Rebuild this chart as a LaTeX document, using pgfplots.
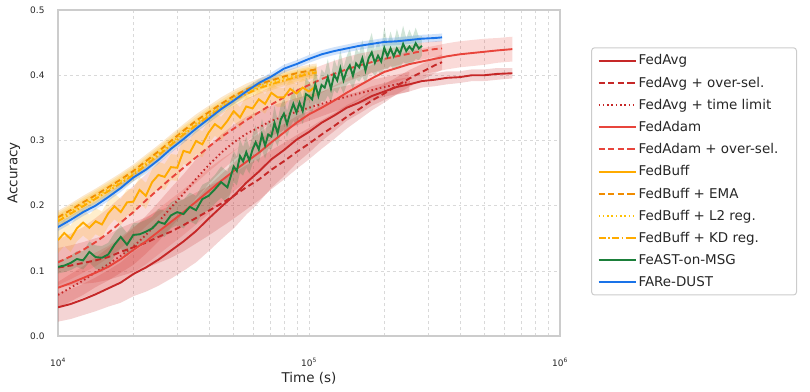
\documentclass[border=0pt]{standalone}
\usepackage{pgfplots}
\pgfplotsset{compat=1.18}
\usepackage{pgfplotstable}
\usepgfplotslibrary{fillbetween}
\usepackage{fontspec}
\setmainfont{DejaVu Sans}

\definecolor{cavg}{HTML}{C62828}
\definecolor{cadam}{HTML}{E8453C}
\definecolor{cbuff}{HTML}{FFAB00}
\definecolor{cema}{HTML}{F08C00}
\definecolor{cltwo}{HTML}{FFC107}
\definecolor{ckd}{HTML}{FFAB00}
\definecolor{cfeast}{HTML}{1B7F3A}
\definecolor{cfare}{HTML}{1A73E8}
\definecolor{gridc}{HTML}{D9D9D9}
\definecolor{framec}{HTML}{CCCCCC}
\definecolor{txt}{HTML}{262626}

% lx = log10(time in s), m = mean accuracy, s = half band width
\pgfplotstableread{
lx m s
4.00 0.044 0.022
4.05 0.049 0.023
4.10 0.056 0.024
4.15 0.064 0.026
4.20 0.073 0.028
4.25 0.082 0.031
4.30 0.095 0.034
4.35 0.105 0.037
4.40 0.117 0.040
4.45 0.131 0.043
4.50 0.145 0.045
4.55 0.161 0.048
4.60 0.180 0.050
4.65 0.198 0.050
4.70 0.215 0.050
4.75 0.235 0.049
4.80 0.252 0.047
4.85 0.271 0.044
4.90 0.285 0.040
4.95 0.301 0.036
5.00 0.313 0.032
5.05 0.327 0.028
5.10 0.338 0.024
5.15 0.350 0.020
5.20 0.358 0.017
5.25 0.368 0.015
5.30 0.375 0.013
5.35 0.382 0.012
5.40 0.386 0.011
5.45 0.391 0.010
5.50 0.393 0.010
5.55 0.396 0.010
5.60 0.397 0.009
5.65 0.400 0.009
5.70 0.400 0.009
5.75 0.402 0.009
5.81 0.403 0.008
}\tFA

\pgfplotstableread{
lx m s
4.00 0.105 0.030
4.05 0.108 0.031
4.10 0.112 0.032
4.15 0.116 0.034
4.20 0.121 0.035
4.25 0.129 0.037
4.30 0.136 0.038
4.35 0.143 0.039
4.40 0.152 0.040
4.45 0.160 0.040
4.50 0.170 0.040
4.55 0.181 0.039
4.60 0.192 0.038
4.65 0.203 0.036
4.70 0.215 0.035
4.75 0.228 0.034
4.80 0.240 0.032
4.85 0.255 0.030
4.90 0.268 0.028
4.95 0.282 0.026
5.00 0.295 0.024
5.05 0.309 0.022
5.10 0.322 0.020
5.15 0.336 0.018
5.20 0.348 0.016
5.25 0.361 0.015
5.30 0.372 0.014
5.35 0.384 0.013
5.40 0.395 0.013
5.45 0.405 0.012
5.50 0.415 0.012
5.53 0.420 0.012
}\tFAO

\pgfplotstableread{
lx m s
4.00 0.063 0.020
4.05 0.074 0.021
4.10 0.085 0.022
4.15 0.098 0.023
4.20 0.110 0.025
4.25 0.123 0.026
4.30 0.137 0.028
4.35 0.155 0.029
4.40 0.175 0.030
4.45 0.197 0.030
4.50 0.218 0.030
4.55 0.241 0.030
4.60 0.262 0.029
4.65 0.281 0.028
4.70 0.297 0.027
4.75 0.310 0.026
4.80 0.320 0.025
4.85 0.330 0.023
4.90 0.337 0.022
4.95 0.344 0.021
5.00 0.350 0.020
5.05 0.356 0.019
5.10 0.362 0.018
5.15 0.367 0.017
5.20 0.372 0.016
5.25 0.377 0.016
5.30 0.382 0.015
5.35 0.386 0.015
5.40 0.390 0.015
}\tFAT

\pgfplotstableread{
lx m s
4.00 0.074 0.030
4.05 0.081 0.030
4.10 0.089 0.030
4.15 0.097 0.031
4.20 0.106 0.032
4.25 0.118 0.034
4.30 0.132 0.035
4.35 0.145 0.035
4.40 0.160 0.035
4.45 0.175 0.035
4.50 0.190 0.035
4.55 0.206 0.035
4.60 0.222 0.035
4.65 0.238 0.033
4.70 0.253 0.031
4.75 0.267 0.030
4.80 0.281 0.030
4.85 0.297 0.029
4.90 0.312 0.028
4.95 0.327 0.026
5.00 0.340 0.025
5.05 0.350 0.024
5.10 0.361 0.023
5.15 0.373 0.022
5.20 0.384 0.022
5.25 0.395 0.021
5.30 0.405 0.021
5.35 0.411 0.021
5.40 0.417 0.020
5.45 0.421 0.020
5.50 0.425 0.020
5.55 0.429 0.020
5.60 0.432 0.020
5.65 0.434 0.020
5.70 0.436 0.020
5.75 0.438 0.019
5.81 0.440 0.019
}\tFD

\pgfplotstableread{
lx m s
4.00 0.113 0.035
4.05 0.122 0.035
4.10 0.132 0.035
4.15 0.144 0.037
4.20 0.158 0.038
4.25 0.174 0.039
4.30 0.190 0.040
4.35 0.208 0.040
4.40 0.225 0.040
4.45 0.242 0.040
4.50 0.258 0.040
4.55 0.274 0.039
4.60 0.290 0.038
4.65 0.305 0.037
4.70 0.318 0.035
4.75 0.331 0.033
4.80 0.343 0.030
4.85 0.355 0.028
4.90 0.366 0.025
4.95 0.376 0.024
5.00 0.385 0.022
5.05 0.394 0.021
5.10 0.402 0.020
5.15 0.409 0.019
5.20 0.415 0.018
5.25 0.420 0.017
5.30 0.425 0.015
5.35 0.429 0.014
5.40 0.433 0.013
5.45 0.437 0.013
5.50 0.440 0.012
5.53 0.441 0.012
}\tFDO

\pgfplotstableread{
lx m s
4.000 0.147 0.020
4.025 0.158 0.020
4.050 0.149 0.020
4.075 0.165 0.020
4.100 0.174 0.020
4.125 0.166 0.020
4.150 0.176 0.020
4.175 0.171 0.020
4.200 0.188 0.020
4.225 0.199 0.020
4.250 0.190 0.020
4.275 0.205 0.020
4.300 0.206 0.020
4.325 0.224 0.020
4.350 0.215 0.020
4.375 0.236 0.020
4.400 0.247 0.020
4.425 0.244 0.020
4.450 0.259 0.020
4.475 0.258 0.020
4.500 0.284 0.020
4.525 0.281 0.020
4.550 0.299 0.020
4.575 0.294 0.020
4.600 0.312 0.018
4.625 0.325 0.018
4.650 0.318 0.018
4.675 0.330 0.018
4.700 0.345 0.016
4.725 0.335 0.016
4.750 0.352 0.016
4.775 0.349 0.016
4.800 0.363 0.015
4.825 0.356 0.015
4.850 0.373 0.015
4.875 0.366 0.015
4.900 0.366 0.014
4.925 0.379 0.014
4.950 0.372 0.014
4.975 0.381 0.014
5.000 0.375 0.014
5.030 0.384 0.014
}\tFB

\pgfplotstableread{
lx m s
4.00 0.182 0.010
4.05 0.193 0.010
4.10 0.205 0.010
4.15 0.216 0.010
4.20 0.228 0.010
4.25 0.240 0.010
4.30 0.253 0.010
4.35 0.268 0.010
4.40 0.283 0.010
4.45 0.299 0.010
4.50 0.315 0.010
4.55 0.330 0.010
4.60 0.343 0.010
4.65 0.356 0.010
4.70 0.368 0.009
4.75 0.378 0.009
4.80 0.386 0.009
4.85 0.392 0.009
4.90 0.398 0.009
4.95 0.403 0.009
5.00 0.407 0.009
5.03 0.409 0.009
}\tFBE

\pgfplotstableread{
lx m s
4.00 0.179 0.010
4.10 0.202 0.010
4.20 0.225 0.010
4.30 0.250 0.010
4.40 0.280 0.010
4.50 0.312 0.010
4.60 0.340 0.010
4.70 0.365 0.009
4.80 0.383 0.009
4.90 0.395 0.009
5.00 0.404 0.009
5.03 0.406 0.009
}\tFBL

\pgfplotstableread{
lx m s
4.00 0.176 0.010
4.10 0.199 0.010
4.20 0.222 0.010
4.30 0.247 0.010
4.40 0.277 0.010
4.50 0.309 0.010
4.60 0.337 0.010
4.70 0.362 0.009
4.80 0.380 0.009
4.90 0.392 0.009
5.00 0.402 0.009
5.03 0.404 0.009
}\tFBK

\pgfplotstableread{
lx m s
4.000 0.106 0.010
4.025 0.108 0.010
4.050 0.112 0.011
4.075 0.118 0.012
4.100 0.116 0.014
4.125 0.129 0.016
4.150 0.121 0.018
4.175 0.120 0.018
4.200 0.125 0.018
4.225 0.140 0.018
4.250 0.152 0.018
4.275 0.140 0.018
4.300 0.155 0.018
4.325 0.156 0.018
4.350 0.160 0.018
4.375 0.165 0.018
4.400 0.175 0.020
4.425 0.172 0.020
4.450 0.185 0.020
4.475 0.190 0.020
4.500 0.187 0.022
4.525 0.198 0.022
4.550 0.193 0.022
4.575 0.210 0.022
4.600 0.215 0.022
4.625 0.225 0.022
4.650 0.236 0.024
4.675 0.228 0.024
4.7000 0.260 0.024
4.7125 0.253 0.022
4.7250 0.276 0.026
4.7375 0.268 0.022
4.7500 0.282 0.024
4.7625 0.269 0.020
4.7750 0.286 0.022
4.7875 0.297 0.026
4.8000 0.286 0.020
4.8125 0.309 0.024
4.8250 0.292 0.020
4.8375 0.309 0.022
4.8500 0.306 0.020
4.8625 0.327 0.026
4.8750 0.311 0.020
4.8875 0.332 0.022
4.9000 0.341 0.024
4.9125 0.325 0.020
4.9250 0.342 0.022
4.9375 0.356 0.026
4.9500 0.343 0.020
4.9625 0.358 0.022
4.9750 0.345 0.020
4.9875 0.371 0.026
5.0000 0.368 0.022
5.0125 0.363 0.020
5.0250 0.386 0.028
5.0375 0.368 0.020
5.0500 0.385 0.024
5.0625 0.381 0.022
5.0750 0.397 0.028
5.0875 0.379 0.020
5.1000 0.401 0.024
5.1125 0.392 0.020
5.1250 0.411 0.028
5.1375 0.392 0.020
5.1500 0.407 0.022
5.1625 0.415 0.026
5.1750 0.399 0.020
5.1875 0.418 0.024
5.2000 0.412 0.022
5.2125 0.426 0.028
5.2250 0.407 0.020
5.2375 0.426 0.024
5.2500 0.435 0.030
5.2625 0.419 0.020
5.2750 0.430 0.024
5.2875 0.421 0.020
5.3000 0.442 0.032
5.3125 0.429 0.020
5.3250 0.441 0.026
5.3375 0.429 0.020
5.3500 0.441 0.030
5.3625 0.433 0.022
5.3750 0.448 0.028
5.3875 0.437 0.020
5.4000 0.444 0.026
5.4125 0.438 0.020
5.4250 0.449 0.024
5.4375 0.441 0.018
5.4500 0.445 0.015
}\tFE

\pgfplotstableread{
lx m s
4.00 0.167 0.006
4.05 0.178 0.006
4.10 0.190 0.006
4.15 0.200 0.006
4.20 0.213 0.006
4.25 0.227 0.006
4.30 0.243 0.006
4.35 0.255 0.006
4.40 0.270 0.006
4.45 0.287 0.006
4.50 0.302 0.006
4.55 0.318 0.006
4.60 0.333 0.006
4.65 0.348 0.006
4.70 0.361 0.006
4.75 0.375 0.006
4.80 0.388 0.006
4.85 0.398 0.006
4.90 0.410 0.006
4.95 0.417 0.006
5.00 0.425 0.006
5.05 0.432 0.006
5.10 0.437 0.006
5.15 0.441 0.006
5.20 0.445 0.006
5.25 0.448 0.006
5.30 0.451 0.006
5.35 0.452 0.006
5.40 0.454 0.006
5.45 0.456 0.006
5.50 0.457 0.006
5.53 0.458 0.006
}\tFR

% band of mean +- s (x is plotted as log10 of the time)
\newcommand{\band}[3]{%
  \addplot[draw=none, name path=#3up, forget plot]
    table[x=lx, y expr=\thisrow{m}+\thisrow{s}] {#1};
  \addplot[draw=none, name path=#3lo, forget plot]
    table[x=lx, y expr=\thisrow{m}-\thisrow{s}] {#1};
  \addplot[fill=#2, fill opacity=0.2, draw=none, forget plot]
    fill between[of=#3up and #3lo];
}

\begin{document}
\begin{tikzpicture}[font=\fontsize{9}{10}\selectfont]
\begin{axis}[
  at={(0,0)}, anchor=south west,
  scale only axis, width=502bp, height=326bp,
  xmin=4, xmax=6, ymin=0, ymax=0.5,
  xtick={4,5,6},
  xticklabels={10\textsuperscript{4},10\textsuperscript{5},10\textsuperscript{6}},
  minor xtick={4.30103,4.47712,4.60206,4.69897,4.77815,4.84510,4.90309,4.95424,
               5.30103,5.47712,5.60206,5.69897,5.77815,5.84510,5.90309,5.95424},
  ytick={0,0.1,0.2,0.3,0.4,0.5},
  yticklabels={0.0,0.1,0.2,0.3,0.4,0.5},
  yticklabel style={xshift=-10bp, text=txt},
  xticklabel style={yshift=-19bp, text=txt},
  major tick length=0pt, minor tick length=0pt,
  xmajorgrids, xminorgrids, ymajorgrids,
  major grid style={dashed, gridc, line width=0.6bp},
  minor grid style={dashed, gridc, line width=0.6bp},
  axis line style={framec, line width=2bp},
  xlabel={Time (s)}, ylabel={Accuracy},
  label style={font=\fontsize{13.5}{15}\selectfont, text=txt},
  xlabel style={at={(axis description cs:0.5,-0.129)}, anchor=center},
  ylabel style={at={(axis description cs:-0.088,0.5)}, anchor=center},
  legend style={at={(1.062,0.505)}, anchor=west, draw=framec, line width=1bp,
    rounded corners=3bp, font=\fontsize{13.5}{16}\selectfont, text=txt,
    row sep=6.5bp, inner xsep=6bp, inner ysep=5bp},
  legend cell align=left,
  legend image code/.code={\draw[#1, line width=1.9bp] (0bp,0bp) -- (30bp,0bp);
    \path (30bp,0bp) -- (37bp,0bp);},
  every axis plot/.append style={line width=1.9bp},
]
\band{\tFA}{cavg}{a}
\addplot[cavg, solid] table[x=lx, y=m] {\tFA};
\addlegendentry{FedAvg}
\band{\tFAO}{cavg}{b}
\addplot[cavg, dash pattern=on 6bp off 3.5bp] table[x=lx, y=m] {\tFAO};
\addlegendentry{FedAvg + over-sel.}
\band{\tFAT}{cavg}{c}
\addplot[cavg, dash pattern=on 1.5bp off 2.8bp] table[x=lx, y=m] {\tFAT};
\addlegendentry{FedAvg + time limit}
\band{\tFD}{cadam}{d}
\addplot[cadam, solid] table[x=lx, y=m] {\tFD};
\addlegendentry{FedAdam}
\band{\tFDO}{cadam}{e}
\addplot[cadam, dash pattern=on 6bp off 3.5bp] table[x=lx, y=m] {\tFDO};
\addlegendentry{\makebox[150bp][l]{FedAdam + over-sel.}}
\band{\tFB}{cbuff}{f}
\addplot[cbuff, solid] table[x=lx, y=m] {\tFB};
\addlegendentry{FedBuff}
\band{\tFBE}{cema}{g}
\addplot[cema, dash pattern=on 6bp off 3.5bp] table[x=lx, y=m] {\tFBE};
\addlegendentry{FedBuff + EMA}
\band{\tFBL}{cltwo}{h}
\addplot[cltwo, dash pattern=on 1.5bp off 2.8bp] table[x=lx, y=m] {\tFBL};
\addlegendentry{FedBuff + L2 reg.}
\band{\tFBK}{ckd}{i}
\addplot[ckd, dash pattern=on 7bp off 2.5bp on 1.5bp off 2.5bp] table[x=lx, y=m] {\tFBK};
\addlegendentry{FedBuff + KD reg.}
\band{\tFE}{cfeast}{j}
\addplot[cfeast, solid] table[x=lx, y=m] {\tFE};
\addlegendentry{FeAST-on-MSG}
\band{\tFR}{cfare}{k}
\addplot[cfare, solid] table[x=lx, y=m] {\tFR};
\addlegendentry{FARe-DUST}
\end{axis}
\path (-58bp,-56bp) rectangle (752bp,336bp);
\end{tikzpicture}
\end{document}
